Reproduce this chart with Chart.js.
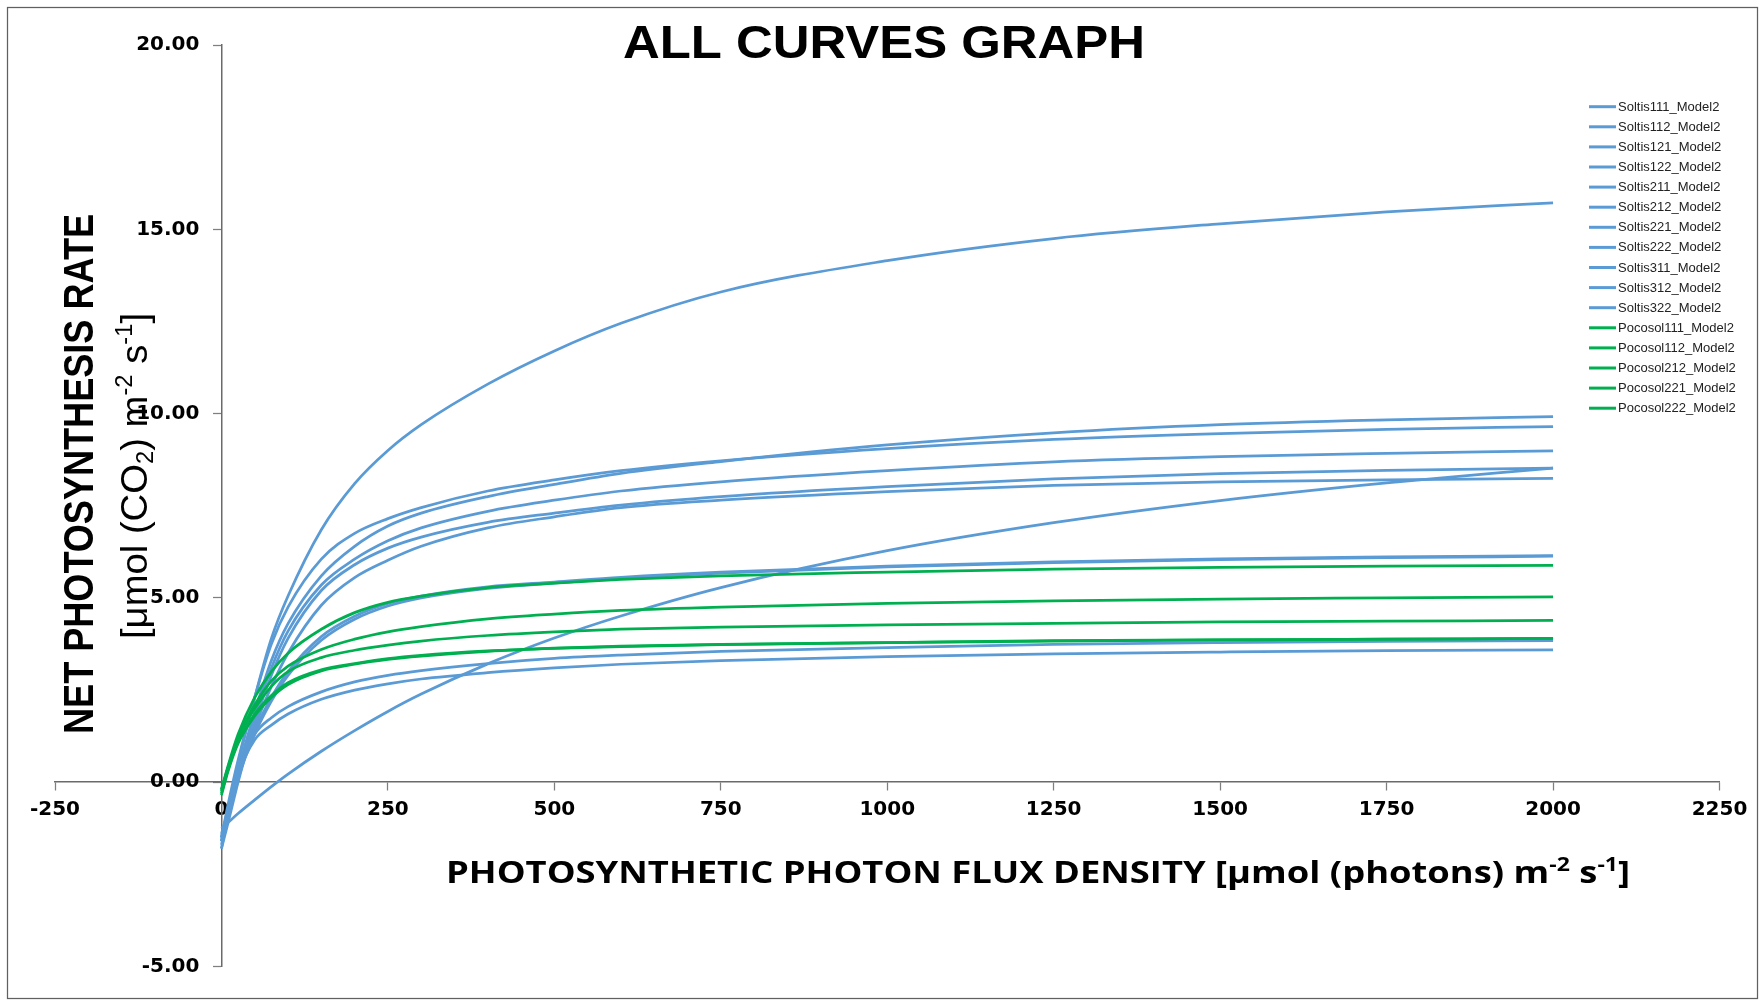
<!DOCTYPE html>
<html><head><meta charset="utf-8">
<script src="https://cdn.jsdelivr.net/npm/chart.js@4.4.1/dist/chart.umd.min.js"></script>
<style>html,body{margin:0;padding:0;background:#fff;} #wrap{width:1760px;height:1001px;position:relative;}</style>
</head><body><div id="wrap"><canvas id="c"></canvas></div>
<script>
// ---- DATA ----
const ppfd = [0, 10, 25, 50, 75, 100, 150, 200, 250, 300, 400, 500, 600, 750, 1000, 1250, 1500, 1750, 2000];

const soltis111 = [-1.5, -0.7, 0.5, 2.3, 3.9, 5.05, 6.85, 8.1, 9.0, 9.7, 10.8, 11.7, 12.45, 13.3, 14.15, 14.75, 15.15, 15.47, 15.72];
const soltis112 = [-1.7, -0.9, 0.3, 1.9, 3.3, 4.3, 5.6, 6.4, 6.95, 7.3, 7.75, 8.08, 8.38, 8.7, 9.15, 9.48, 9.7, 9.83, 9.92];
const soltis121 = [-1.5, -0.6, 0.6, 2.3, 3.75, 4.75, 6.05, 6.75, 7.15, 7.45, 7.9, 8.2, 8.45, 8.72, 9.05, 9.3, 9.46, 9.57, 9.65];
const soltis122 = [-1.6, -0.9, 0.2, 1.8, 3.1, 4.1, 5.35, 6.05, 6.55, 6.9, 7.35, 7.65, 7.9, 8.15, 8.45, 8.69, 8.83, 8.92, 8.99];
const soltis211 = [-1.8, -1.1, 0.0, 1.6, 2.9, 3.9, 5.2, 5.9, 6.35, 6.65, 7.05, 7.3, 7.52, 7.75, 8.02, 8.23, 8.37, 8.46, 8.52];
const soltis212 = [-1.4, -0.8, 0.2, 1.5, 2.6, 3.5, 4.8, 5.55, 6.02, 6.4, 6.9, 7.2, 7.45, 7.65, 7.88, 8.05, 8.15, 8.2, 8.24];
const soltis221 = [-1.25, -1.09, -0.85, -0.48, -0.12, 0.22, 0.84, 1.40, 1.92, 2.39, 3.21, 3.91, 4.51, 5.28, 6.28, 7.04, 7.64, 8.12, 8.52];
const soltis222 = [-1.5, -0.8, 0.2, 1.4, 2.3, 3.0, 3.95, 4.5, 4.85, 5.05, 5.3, 5.43, 5.56, 5.7, 5.86, 5.98, 6.06, 6.11, 6.15];
const soltis311 = [-1.6, -0.7, 0.3, 1.3, 1.75, 2.05, 2.45, 2.72, 2.9, 3.03, 3.22, 3.36, 3.45, 3.55, 3.65, 3.74, 3.79, 3.82, 3.84];
const soltis312 = [-1.8, -0.9, 0.2, 1.15, 1.55, 1.85, 2.25, 2.5, 2.67, 2.8, 2.97, 3.1, 3.2, 3.3, 3.41, 3.48, 3.53, 3.57, 3.59];
const soltis322 = [-1.6, -0.9, 0.1, 1.3, 2.2, 2.9, 3.85, 4.42, 4.78, 5.0, 5.26, 5.4, 5.53, 5.67, 5.84, 5.96, 6.04, 6.09, 6.13];
const pocosol111 = [-0.2, 0.45, 1.3, 2.3, 3.0, 3.5, 4.15, 4.6, 4.88, 5.05, 5.28, 5.4, 5.5, 5.6, 5.7, 5.78, 5.83, 5.86, 5.88];
const pocosol112 = [-0.2, 0.4, 1.2, 2.1, 2.75, 3.15, 3.6, 3.88, 4.08, 4.22, 4.43, 4.56, 4.66, 4.75, 4.85, 4.92, 4.97, 5.0, 5.03];
const pocosol212 = [-0.25, 0.4, 1.2, 2.0, 2.6, 3.0, 3.38, 3.58, 3.72, 3.83, 3.98, 4.08, 4.15, 4.21, 4.27, 4.31, 4.35, 4.37, 4.39];
const pocosol221 = [-0.3, 0.35, 1.1, 1.85, 2.35, 2.7, 3.05, 3.22, 3.35, 3.44, 3.56, 3.64, 3.69, 3.74, 3.79, 3.84, 3.86, 3.88, 3.90];
const pocosol222 = [-0.35, 0.3, 1.05, 1.8, 2.3, 2.65, 3.02, 3.2, 3.33, 3.42, 3.55, 3.63, 3.68, 3.73, 3.79, 3.83, 3.86, 3.88, 3.90];

const soltisNames = ['Soltis111_Model2','Soltis112_Model2','Soltis121_Model2','Soltis122_Model2','Soltis211_Model2','Soltis212_Model2','Soltis221_Model2','Soltis222_Model2','Soltis311_Model2','Soltis312_Model2','Soltis322_Model2'];
const pocosolNames = ['Pocosol111_Model2','Pocosol112_Model2','Pocosol212_Model2','Pocosol221_Model2','Pocosol222_Model2'];
const soltisSeries = [soltis111, soltis112, soltis121, soltis122, soltis211, soltis212, soltis221, soltis222, soltis311, soltis312, soltis322];
const pocosolSeries = [pocosol111, pocosol112, pocosol212, pocosol221, pocosol222];

const xTickValues = [-250, 0, 250, 500, 750, 1000, 1250, 1500, 1750, 2000, 2250];
const xTickLabels = ['-250', '0', '250', '500', '750', '1000', '1250', '1500', '1750', '2000', '2250'];
const yTickValues = [-5, 0, 5, 10, 15, 20];
const yTickLabels = ['-5.00', '0.00', '5.00', '10.00', '15.00', '20.00'];

const chartTitle = 'ALL CURVES GRAPH';
const yTitleLine1 = [{s:'NET PHOTOSYNTHESIS RATE', t:'n'}];
const yTitleLine2 = [{s:'[\u03bcmol (CO', t:'n'}, {s:'2', t:'sub'}, {s:') m', t:'n'}, {s:'-2', t:'sup'}, {s:' s', t:'n'}, {s:'-1', t:'sup'}, {s:']', t:'n'}];
const xTitle = [{s:'PHOTOSYNTHETIC PHOTON FLUX DENSITY [\u03bcmol (photons) m', t:'n'}, {s:'-2', t:'sup'}, {s:' s', t:'n'}, {s:'-1', t:'sup'}, {s:']', t:'n'}];

// ---- STYLE ----
const BLUE = '#5B9BD5';
const GREEN = '#00B050';

const mk = (arr) => ppfd.map((x, i) => ({x: x, y: arr[i]}));
const datasets = [];
soltisSeries.forEach((s, i) => datasets.push({label: soltisNames[i], data: mk(s), borderColor: BLUE, backgroundColor: BLUE, order: 2}));
pocosolSeries.forEach((s, i) => datasets.push({label: pocosolNames[i], data: mk(s), borderColor: GREEN, backgroundColor: GREEN, order: 1}));

function drawRich(ctx, segs, family, size, weight, cx, baseY, targetW) {
  const fontFor = (s) => `${weight} ${s.t === 'n' ? size : Math.round(size * 0.62)}px ${family}`;
  let total = 0;
  for (const s of segs) { ctx.font = fontFor(s); total += ctx.measureText(s.s).width; }
  const sx = targetW ? targetW / total : 1;
  ctx.save();
  ctx.translate(cx, baseY);
  ctx.scale(sx, 1);
  ctx.textAlign = 'left'; ctx.textBaseline = 'alphabetic';
  let x = -total / 2;
  for (const s of segs) {
    ctx.font = fontFor(s);
    const dy = s.t === 'sup' ? -size * 0.40 : (s.t === 'sub' ? size * 0.16 : 0);
    ctx.fillText(s.s, x, dy);
    x += ctx.measureText(s.s).width;
  }
  ctx.restore();
}

const decorPlugin = {
  id: 'decor',
  afterDraw(chart) {
    const ctx = chart.ctx;
    ctx.save();
    ctx.strokeStyle = '#606060'; ctx.lineWidth = 1.25;
    ctx.strokeRect(7.5, 7.5, 1750, 991);
    ctx.fillStyle = '#000';
    drawRich(ctx, [{s: chartTitle, t: 'n'}], "'Liberation Sans', Arial, sans-serif", 46, 'bold', 884, 58, 522);
    ctx.save(); ctx.translate(93, 474); ctx.rotate(-Math.PI / 2);
    drawRich(ctx, yTitleLine1, "'Liberation Sans Narrow', 'Liberation Sans', Arial, sans-serif", 42, 'bold', 0, 0, 520);
    ctx.restore();
    ctx.save(); ctx.translate(147, 476); ctx.rotate(-Math.PI / 2);
    drawRich(ctx, yTitleLine2, "'Liberation Sans Narrow', 'Liberation Sans', Arial, sans-serif", 37, 'normal', 0, 0, 326);
    ctx.restore();
    drawRich(ctx, xTitle, "'Open Sans', 'Liberation Sans', sans-serif", 30, 'bold', 1038, 883, 1184);
    const lx0 = 1589, lx1 = 1616, ly0 = 106.7, dy = 20.1;
    chart.data.datasets.forEach((ds, i) => {
      const y = ly0 + i * dy;
      ctx.strokeStyle = ds.borderColor; ctx.lineWidth = 3;
      ctx.beginPath(); ctx.moveTo(lx0, y); ctx.lineTo(lx1, y); ctx.stroke();
      ctx.fillStyle = '#222';
      ctx.font = "13px 'Liberation Sans', Arial, sans-serif";
      ctx.textAlign = 'left'; ctx.textBaseline = 'middle';
      ctx.fillText(ds.label, lx1 + 2, y + 0.5);
    });
    ctx.restore();
  }
};

// y labels of an axis placed at x = 0 get no padding from Chart.js; shift them left
function padYLabels(scale) {
  if (!scale.__padded) {
    const orig = scale._computeLabelItems;
    scale._computeLabelItems = function (ca) {
      const items = orig.call(this, ca);
      items.forEach(it => { if (it.options && it.options.translation) it.options.translation[0] -= 22; });
      return items;
    };
    scale.__padded = true;
  }
  scale._labelItems = null;
}

const tickFont = {family: "'DejaVu Sans', sans-serif", size: 20, weight: 'bold'};

new Chart(document.getElementById('c'), {
  type: 'line',
  data: {datasets: datasets},
  options: {
    responsive: true,
    maintainAspectRatio: false,
    animation: false,
    layout: {padding: {left: 55, right: 40.5, top: 45, bottom: 34.5}},
    elements: {
      line: {borderWidth: 2.75, cubicInterpolationMode: 'monotone', fill: false},
      point: {radius: 0, hoverRadius: 0}
    },
    plugins: {legend: {display: false}, tooltip: {enabled: false}, title: {display: false}},
    events: [],
    scales: {
      x: {
        type: 'linear', min: -250, max: 2250, position: {y: 0},
        afterBuildTicks: (axis) => { axis.ticks = xTickValues.map(v => ({value: v})); },
        ticks: {
          callback: (v) => { const i = xTickValues.indexOf(v); return i >= 0 ? xTickLabels[i] : ''; },
          font: tickFont, color: '#000', padding: 8, maxRotation: 0, autoSkip: false
        },
        grid: {display: true, drawOnChartArea: false, drawTicks: true, tickLength: 8, color: '#7f7f7f', tickWidth: 1.25},
        border: {display: true, color: '#6a6a6a', width: 1.5}
      },
      y: {
        type: 'linear', min: -5, max: 20, position: {x: 0},
        afterBuildTicks: (axis) => { axis.ticks = yTickValues.map(v => ({value: v})); },
        afterUpdate: padYLabels,
        ticks: {
          callback: (v) => { const i = yTickValues.indexOf(v); return i >= 0 ? yTickLabels[i] : ''; },
          font: tickFont, color: '#000', padding: 14, autoSkip: false
        },
        grid: {display: true, drawOnChartArea: false, drawTicks: true, tickLength: 8, color: '#7f7f7f', tickWidth: 1.25},
        border: {display: true, color: '#6a6a6a', width: 1.5}
      }
    }
  },
  plugins: [decorPlugin]
});
</script>
</body></html>
